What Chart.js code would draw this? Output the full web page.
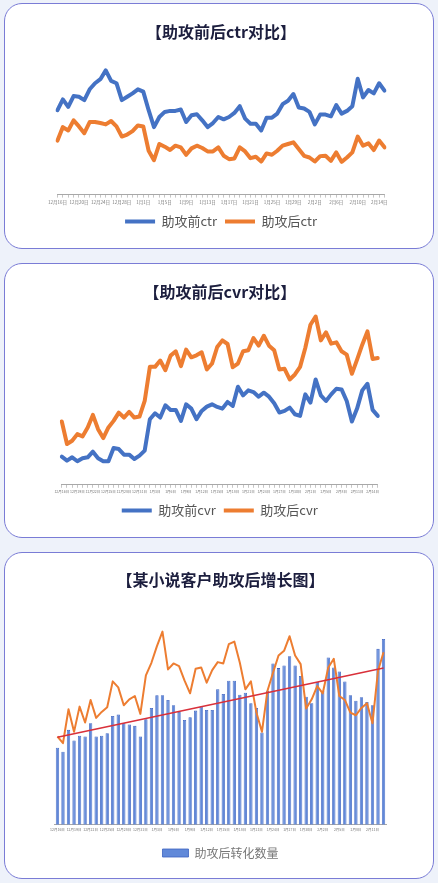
<!DOCTYPE html>
<html>
<head>
<meta charset="utf-8">
<script src="https://cdn.jsdelivr.net/npm/chart.js@4.4.1/dist/chart.umd.min.js"></script>
<style>
  html, body { margin: 0; padding: 0; }
  body { width: 438px; height: 883px; background: #eef2fa; position: relative; overflow: hidden; }
  .panel { position: absolute; left: 4px; width: 430px; box-sizing: border-box;
           border: 1.5px solid #7a7cd6; border-radius: 18px; background: #ffffff; overflow: hidden; }
  .panel canvas { position: absolute; left: 0; top: 0; }
</style>
</head>
<body>
<div class="panel" id="p1" style="top:3px;height:246px;"><canvas id="c1"></canvas></div>
<div class="panel" id="p2" style="top:263px;height:275px;"><canvas id="c2"></canvas></div>
<div class="panel" id="p3" style="top:552px;height:327px;"><canvas id="c3"></canvas></div>
<script>
// ---- categories ----
const dates = [
  '12月16日','12月17日','12月18日','12月19日','12月20日','12月21日','12月22日','12月23日',
  '12月24日','12月25日','12月26日','12月27日','12月28日','12月29日','12月30日','12月31日',
  '1月1日','1月2日','1月3日','1月4日','1月5日','1月6日','1月7日','1月8日','1月9日','1月10日',
  '1月11日','1月12日','1月13日','1月14日','1月15日','1月16日','1月17日','1月18日','1月19日','1月20日',
  '1月21日','1月22日','1月23日','1月24日','1月25日','1月26日','1月27日','1月28日','1月29日','1月30日','1月31日',
  '2月1日','2月2日','2月3日','2月4日','2月5日','2月6日','2月7日','2月8日','2月9日','2月10日',
  '2月11日','2月12日','2月13日','2月14日','2月15日'
];
const dates3 = dates.slice(0, 60);

// ---- chart 1: ctr ----
const ctrBefore = [5.0,5.64,5.2,5.84,5.8,5.6,6.24,6.6,6.84,7.36,6.74,6.6,5.6,5.8,6.0,6.24,6.1,5.0,4.0,4.6,
  4.9,4.96,4.96,5.04,4.3,4.7,4.76,4.4,4.0,4.24,4.6,4.46,4.6,4.84,5.24,4.5,4.2,4.2,3.8,4.56,
  4.56,4.8,5.36,5.56,5.96,5.16,5.1,4.9,4.16,4.74,4.74,4.64,5.3,4.8,4.96,5.24,6.86,5.76,6.2,6.0,6.6,6.16];
const ctrAfter = [3.2,4.0,3.8,4.4,4.04,3.64,4.3,4.3,4.24,4.16,4.36,4.04,3.44,3.56,3.76,4.1,4.04,2.6,2.04,3.0,
  2.84,2.64,2.9,2.8,2.36,2.74,2.9,2.76,2.56,2.56,2.8,2.3,2.1,2.14,2.8,2.56,2.16,2.24,1.96,2.44,
  2.36,2.6,2.9,3.0,3.1,2.7,2.3,2.2,1.96,2.28,2.3,2.0,2.5,1.94,2.2,2.5,3.44,2.9,3.04,2.64,3.2,2.8];

// ---- chart 2: cvr ----
const cvrBefore = [1.70,1.46,1.66,1.42,1.60,1.66,2.00,1.60,1.42,1.42,2.22,2.16,1.82,1.82,1.56,1.76,2.06,3.96,4.32,4.06,
  4.80,4.52,4.52,3.86,4.86,4.60,3.96,4.46,4.72,4.86,4.70,4.60,5.00,4.76,5.92,5.40,5.70,5.60,5.32,5.56,
  5.32,4.92,4.36,4.46,4.66,4.26,4.16,5.46,4.96,6.36,5.40,5.06,5.46,5.80,5.76,5.06,3.82,4.60,5.70,6.10,4.52,4.16];
const cvrAfter = [3.82,2.46,2.66,3.06,2.92,3.46,4.22,3.36,2.82,3.46,3.86,4.36,4.06,4.40,4.06,4.12,5.06,7.12,7.12,7.50,
  6.92,7.80,8.06,7.16,8.16,7.70,7.82,8.00,6.96,7.32,8.32,8.72,8.50,7.10,7.32,8.06,8.12,8.86,8.40,9.00,
  8.40,8.12,6.96,7.00,6.36,6.66,7.12,8.26,9.66,10.16,8.72,9.20,8.52,8.60,8.06,7.86,6.70,7.56,8.46,9.26,7.60,7.66];

// ---- chart 3: 助攻后转化数量 ----
const convCount = [116,110,143,127,134,133,153,133,134,138,164,166,153,151,149,133,159,176,195,195,
  188,180,170,158,162,172,178,173,173,204,197,217,217,196,199,183,176,139,202,243,
  236,240,254,240,224,193,183,215,202,252,237,231,216,195,187,192,185,180,265,280];
const convLine = [133,123,174,140,178,154,188,161,170,177,216,207,180,189,194,167,225,244,269,291,
  234,243,239,217,198,235,237,214,233,245,243,272,276,244,204,216,169,140,202,229,
  255,262,284,255,242,175,189,209,198,237,250,194,188,169,165,176,183,153,232,260];
const trendEnds = [132, 236];

const CJK = "'Noto Sans CJK SC', 'Noto Sans', sans-serif";

function sizeCanvas(id, panelId) {
  const p = document.getElementById(panelId);
  const c = document.getElementById(id);
  c.style.width = p.clientWidth + 'px';
  c.style.height = p.clientHeight + 'px';
  c.width = p.clientWidth; c.height = p.clientHeight;
  return c;
}

function xAxis(labels, step, fontSize, offset, tickLen, tickPad) {
  return {
    type: 'category',
    offset: offset,
    grid: { display: true, drawOnChartArea: false, drawTicks: tickLen > 0, tickLength: tickLen, color: '#b8b8b8', lineWidth: 0.8 },
    border: { display: true, color: '#a8a8a8', width: 1 },
    ticks: {
      autoSkip: false, maxRotation: 0, minRotation: 0, padding: tickPad,
      color: '#777', font: { family: CJK, size: fontSize },
      callback: function(v, i) { return i % step === 0 ? labels[i] : ''; }
    }
  };
}

Chart.defaults.animation = false;
Chart.defaults.responsive = false;
Chart.defaults.devicePixelRatio = 1;

function lineChart(canvas, title, labels, step, tickFont, ds, ymax, pad, titlePad, legendPad) {
  return new Chart(canvas, {
    type: 'line',
    data: {
      labels: labels,
      datasets: ds.map(d => ({
        label: d.label, data: d.data, borderColor: d.color, backgroundColor: d.color,
        borderWidth: 4, pointRadius: 0, tension: 0, borderCapStyle: 'round', borderJoinStyle: 'round',
        pointStyle: 'line'
      }))
    },
    options: {
      layout: { padding: pad },
      scales: {
        x: xAxis(labels, step, tickFont, false, 3, 2),
        y: { display: false, min: 0, max: ymax }
      },
      plugins: {
        title: { display: true, text: title, color: '#1c1e3e', font: { family: CJK, size: 16, weight: 'bold' }, padding: titlePad },
        legend: { position: 'bottom', labels: { usePointStyle: true, pointStyleWidth: 30, padding: legendPad,
          color: '#555', font: { family: CJK, size: 13 } } },
        tooltip: { enabled: false }
      }
    }
  });
}

lineChart(sizeCanvas('c1', 'p1'), '【助攻前后ctr对比】', dates, 4, 4.5,
  [{ label: '助攻前ctr', data: ctrBefore, color: '#4472c4' }, { label: '助攻后ctr', data: ctrAfter, color: '#ed7d31' }],
  8, { left: 52.5, right: 48.5, top: 0, bottom: 10 }, { top: 18, bottom: 18.4 }, 8);

lineChart(sizeCanvas('c2', 'p2'), '【助攻前后cvr对比】', dates, 3, 3.5,
  [{ label: '助攻前cvr', data: cvrBefore, color: '#4472c4' }, { label: '助攻后cvr', data: cvrAfter, color: '#ed7d31' }],
  11, { left: 56.8, right: 55.2, top: 0, bottom: 10 }, { top: 18, bottom: 1.4 }, 8);

// chart 3
const trendData = convCount.map(() => null);
trendData[0] = trendEnds[0];
trendData[trendData.length - 1] = trendEnds[1];

const x3 = xAxis(dates3, 3, 3.5, true, 0, 3);
x3.grid = { display: false, drawTicks: false, tickLength: 0 };

new Chart(sizeCanvas('c3', 'p3'), {
  type: 'bar',
  data: {
    labels: dates3,
    datasets: [
      { type: 'bar', label: '助攻后转化数量', data: convCount, backgroundColor: '#6189d9', borderColor: '#3c62c0',
        borderWidth: 0.8, barPercentage: 0.6, categoryPercentage: 1.0, order: 3 },
      { type: 'line', label: '助攻后转化趋势', data: convLine, borderColor: '#ed7d31', borderWidth: 2,
        pointRadius: 0, tension: 0, order: 2, borderJoinStyle: 'round' },
      { type: 'line', label: '线性趋势', data: trendData, borderColor: '#d9303a', borderWidth: 1.5,
        pointRadius: 0, spanGaps: true, order: 1 }
    ]
  },
  options: {
    layout: { padding: { left: 49.7, right: 46.7, top: 0, bottom: 9 } },
    scales: {
      x: x3,
      y: { display: false, min: 0, max: 300 }
    },
    plugins: {
      title: { display: true, text: '【某小说客户助攻后增长图】', color: '#1c1e3e', font: { family: CJK, size: 16, weight: 'bold' }, padding: { top: 17, bottom: 36.4 } },
      legend: { position: 'bottom',
        labels: { boxWidth: 26, boxHeight: 8, padding: 12, color: '#777', font: { family: CJK, size: 12 },
          filter: item => item.datasetIndex === 0 } },
      tooltip: { enabled: false }
    }
  }
});
</script>
</body>
</html>
